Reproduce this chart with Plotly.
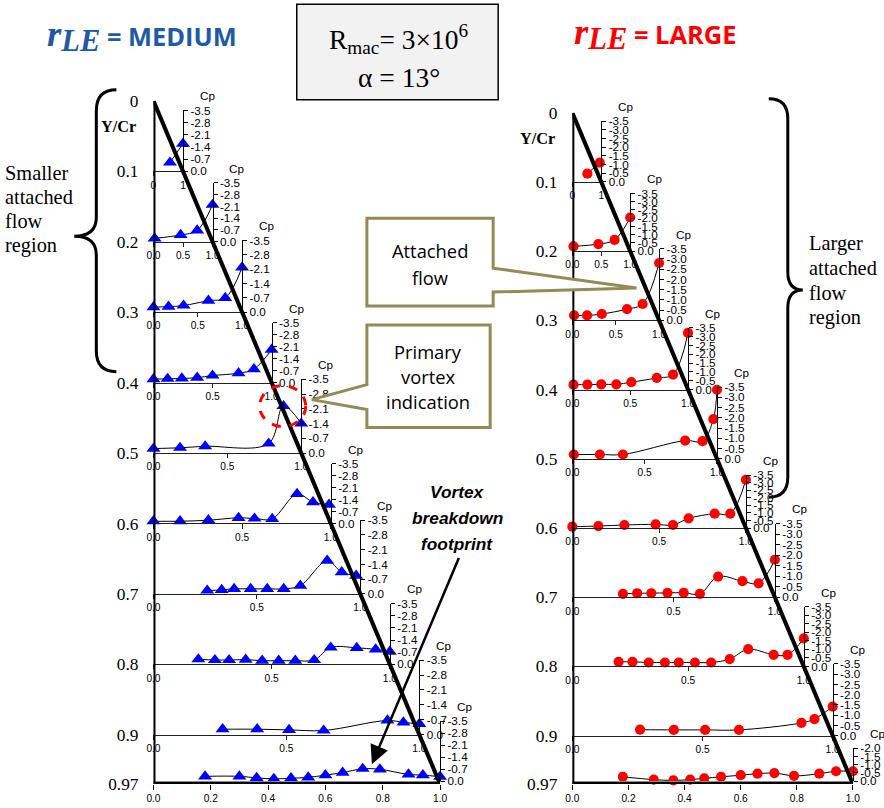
import plotly.graph_objects as go

# the window snapshot covers a 900x824 page area that ends up at 884x808,
# so every layout position below is given in final-picture pixels and mapped back
PAD = 8
SX, SY = 884 / 900, 808 / 824
W, H = 892, 816          # figure size, placed at the default 8px body offset
K = 1 / SX               # size factor for fonts, markers and pixel offsets

# ---------------------------------------------------------------- data
# spanwise stations (Y/Cr) of the pressure cuts
STATIONS = [0.1, 0.2, 0.3, 0.4, 0.5, 0.6, 0.7, 0.8, 0.9, 0.97]
SPAN_TIP = 0.97
YCR_TICKS = [0.0] + STATIONS
YCR_LABELS = ["0", "0.1", "0.2", "0.3", "0.4", "0.5", "0.6", "0.7", "0.8", "0.9", "0.97"]
XC_TICKS = [0.0, 0.2, 0.4, 0.6, 0.8, 1.0]
XC_LABELS = ["0.0", "0.2", "0.4", "0.6", "0.8", "1.0"]

# r_LE = MEDIUM : local x/c and Cp at each station
MED_X = [
    [0.56, 1.0],
    [0.02, 0.46, 0.74, 1.0],
    [0.0, 0.17, 0.34, 0.62, 0.81, 1.0],
    [0.0, 0.12, 0.24, 0.37, 0.50, 0.72, 0.85, 1.0],
    [0.0, 0.18, 0.35, 0.78, 0.88, 1.0],
    [0.0, 0.15, 0.31, 0.48, 0.57, 0.67, 0.81, 0.90, 0.99],
    [0.26, 0.33, 0.39, 0.47, 0.55, 0.63, 0.71, 0.84, 0.91, 0.98],
    [0.19, 0.26, 0.32, 0.39, 0.46, 0.53, 0.60, 0.68, 0.75, 0.86, 0.94, 1.0],
    [0.26, 0.39, 0.51, 0.64, 0.88, 0.94, 1.0],
    [0.18, 0.30, 0.36, 0.42, 0.48, 0.54, 0.60, 0.66, 0.73, 0.79, 0.89, 0.94, 1.0],
]
MED_CP = [
    [-0.50, -1.59],
    [-0.20, -0.40, -0.67, -2.20],
    [-0.24, -0.27, -0.32, -0.56, -0.69, -2.18],
    [-0.20, -0.22, -0.24, -0.29, -0.41, -0.55, -0.79, -1.93],
    [-0.21, -0.25, -0.32, -0.45, -2.23, -1.40],
    [-0.13, -0.13, -0.19, -0.33, -0.29, -0.27, -1.73, -1.25, -1.10],
    [-0.16, -0.19, -0.24, -0.24, -0.24, -0.24, -0.39, -1.58, -1.03, -0.87],
    [-0.29, -0.25, -0.25, -0.27, -0.21, -0.21, -0.21, -0.25, -0.97, -0.95, -0.86, -0.73],
    [-0.26, -0.26, -0.23, -0.20, -0.67, -0.58, -0.51],
    [-0.28, -0.28, -0.19, -0.13, -0.17, -0.22, -0.35, -0.50, -0.72, -0.69, -0.39, -0.35, -0.26],
]

# r_LE = LARGE : local x/c and Cp at each station
LRG_X = [
    [0.52, 0.95],
    [0.02, 0.45, 0.73, 1.0],
    [0.02, 0.17, 0.34, 0.63, 0.81, 1.0],
    [0.01, 0.13, 0.25, 0.38, 0.51, 0.73, 0.87, 1.0],
    [0.01, 0.19, 0.35, 0.78, 0.90, 0.975, 1.0],
    [0.0, 0.15, 0.30, 0.48, 0.58, 0.67, 0.82, 0.91, 1.0],
    [0.25, 0.32, 0.39, 0.47, 0.55, 0.63, 0.72, 0.84, 0.92, 1.0],
    [0.20, 0.26, 0.33, 0.40, 0.46, 0.53, 0.60, 0.68, 0.76, 0.87, 0.93, 1.0],
    [0.26, 0.39, 0.51, 0.64, 0.88, 0.93, 1.0],
    [0.18, 0.29, 0.36, 0.42, 0.47, 0.53, 0.60, 0.66, 0.72, 0.79, 0.88, 0.94, 1.0],
]
LRG_CP = [
    [-0.48, -1.11],
    [-0.29, -0.43, -0.68, -2.04],
    [-0.24, -0.24, -0.31, -0.55, -0.80, -2.80],
    [-0.28, -0.28, -0.30, -0.30, -0.42, -0.66, -0.85, -3.21],
    [-0.21, -0.21, -0.21, -0.89, -0.86, -1.94, -3.37],
    [-0.09, -0.13, -0.20, -0.24, -0.20, -0.64, -0.95, -0.95, -3.20],
    [-0.16, -0.19, -0.19, -0.21, -0.21, -0.16, -0.98, -0.76, -0.66, -1.78],
    [-0.27, -0.27, -0.23, -0.23, -0.23, -0.23, -0.23, -0.43, -1.01, -0.68, -0.68, -1.64],
    [-0.29, -0.28, -0.28, -0.28, -0.62, -0.81, -1.42],
    [-0.26, -0.09, -0.04, -0.09, -0.17, -0.26, -0.36, -0.45, -0.49, -0.32, -0.45, -0.60, -0.60],
]

MED_CP_TICKS = [0.0, -0.7, -1.4, -2.1, -2.8, -3.5]
LRG_CP_TICKS = [0.0, -0.5, -1.0, -1.5, -2.0, -2.5, -3.0, -3.5]
LRG_TIP_CP_TICKS = [0.0, -0.5, -1.0, -1.5, -2.0]

# ---------------------------------------------------------------- layout
SANS = "Liberation Sans, Arial, sans-serif"
SERIF = "Liberation Serif, Times New Roman, serif"
CALLOUT_FONT = "Open Sans, sans-serif"
OLIVE = "rgb(148,138,84)"

# pixel frame of each planform panel and the height of every Cp window
PANELS = [
    dict(x0=154, x1=440, ytop=100, ybot=786,
         heights=[61, 59, 72, 60, 74, 60, 74, 61, 75, 63],
         xs=MED_X, cps=MED_CP, color="#0000FF", symbol="triangle-up", size=12,
         cp_ticks=[MED_CP_TICKS] * 10),
    dict(x0=572, x1=852, ytop=112, ybot=786,
         heights=[61, 58, 72, 62, 72, 53, 74, 60, 72, 36],
         xs=LRG_X, cps=LRG_CP, color="#FF0000", symbol="circle", size=10,
         cp_ticks=[LRG_CP_TICKS] * 9 + [LRG_TIP_CP_TICKS]),
]


def fx(px):
    """picture pixel column -> paper x"""
    return (px / SX - PAD) / W


def fy(py):
    """picture pixel row -> paper y"""
    return 1 - (py / SY - PAD) / H


def fs(v):
    return round(v * K, 2)


fig = go.Figure()
lay = {}
annotations = []
shapes = []

for p, pan in enumerate(PANELS):
    m = p + 1
    xk = "xaxis" if m == 1 else f"xaxis{m}"
    yk = "yaxis" if m == 1 else f"yaxis{m}"
    xr = "x" if m == 1 else f"x{m}"
    yr = "y" if m == 1 else f"y{m}"
    lay[xk] = dict(domain=[fx(pan["x0"]), fx(pan["x1"])], range=[0, 1], anchor=yr,
                   showline=False,
                   ticks="outside", ticklen=fs(5), tickwidth=1, tickcolor="black",
                   tickvals=XC_TICKS, ticktext=XC_LABELS,
                   tickfont=dict(family=SANS, size=fs(10), color="black"),
                   showgrid=False, zeroline=False, fixedrange=True)
    lay[yk] = dict(domain=[fy(pan["ybot"]), fy(pan["ytop"])], range=[SPAN_TIP, 0], anchor=xr,
                   showline=False, ticks="", tickvals=YCR_TICKS, ticktext=YCR_LABELS,
                   ticklabelstandoff=int(round(14 * K)),
                   tickfont=dict(family=SERIF, size=fs(17), color="black"),
                   showgrid=False, zeroline=False, fixedrange=True)
    # planform outline: root edge, leading edge and tip edge
    for (ax0, ay0, ax1, ay1) in [(0, 0, 0, SPAN_TIP), (0, 0, 1, SPAN_TIP), (0, SPAN_TIP, 1, SPAN_TIP)]:
        shapes.append(dict(type="line", xref=xr, yref=yr, x0=ax0, y0=ay0, x1=ax1, y1=ay1,
                           line=dict(color="black", width=fs(4)), layer="above"))

    for i, eta in enumerate(STATIONS):
        n = 3 + p * 10 + i
        frac = eta / SPAN_TIP
        base = pan["ytop"] + (pan["ybot"] - pan["ytop"]) * frac
        xend = pan["x0"] + (pan["x1"] - pan["x0"]) * frac
        h = pan["heights"][i]
        cpt = pan["cp_ticks"][i]
        last = i == len(STATIONS) - 1
        if i == 0:
            tv, tt = [0, 1], ["0", "1"]
        else:
            tv, tt = [0, 0.5, 1], ["0.0", "0.5", "1.0"]
        lay[f"xaxis{n}"] = dict(domain=[fx(pan["x0"]), fx(xend)], range=[0, 1], anchor=f"y{n}",
                                showline=True, linecolor="#888" if last else "#222",
                                linewidth=1,
                                ticks="" if last else "outside", ticklen=fs(4), tickcolor="#222",
                                tickvals=tv, ticktext=tt, showticklabels=not last,
                                tickfont=dict(family=SANS, size=fs(10), color="black"),
                                showgrid=False, zeroline=False, fixedrange=True)
        lay[f"yaxis{n}"] = dict(domain=[fy(base - 3 if last else base), fy(base - h)],
                                range=[0, min(cpt)],
                                anchor=f"x{n}", side="right",
                                showline=True, linecolor="black", linewidth=1,
                                ticks="outside", ticklen=fs(4), tickcolor="black",
                                tickvals=cpt, ticktext=[f"{v:.1f}" for v in cpt],
                                tickfont=dict(family=SANS, size=fs(11.5), color="black"),
                                showgrid=False, zeroline=False, fixedrange=True)
        fig.add_trace(go.Scatter(
            x=pan["xs"][i], y=pan["cps"][i], xaxis=f"x{n}", yaxis=f"y{n}",
            mode="lines+markers", cliponaxis=False,
            line=dict(color="black", width=1, shape="spline", smoothing=1),
            marker=dict(symbol=pan["symbol"], size=fs(pan["size"]), color=pan["color"],
                        line=dict(width=0)),
            showlegend=False, hoverinfo="skip"))
        annotations.append(dict(text="Cp", xref=f"x{n} domain", yref=f"y{n} domain",
                                x=1, y=1, xanchor="center", yanchor="bottom",
                                xshift=fs(24), yshift=fs(6), showarrow=False,
                                font=dict(family=SANS, size=fs(11.5), color="black")))

    annotations.append(dict(text="<b>Y/Cr</b>", xref="paper", yref="paper",
                            x=fx(pan["x0"] - 35), y=fy(pan["ytop"] + 26),
                            xanchor="center", yanchor="middle", showarrow=False,
                            font=dict(family=SERIF, size=fs(16), color="black")))


def text_lines(lines, x, y0, dy, anchor, font):
    for k, s in enumerate(lines):
        annotations.append(dict(text=s, xref="paper", yref="paper", x=fx(x), y=fy(y0 + k * dy),
                                xanchor=anchor, yanchor="middle", showarrow=False, font=font))


def path(points, close=True):
    s = "M " + " L ".join(f"{fx(a):.5f},{fy(b):.5f}" for a, b in points)
    return s + (" Z" if close else "")


# headings
def heading(word):
    return (f"<span style='font-family:Liberation Serif;font-size:{fs(36)}px'><b><i>r</i></b></span>"
            f"<sub><span style='font-family:Liberation Serif;font-size:{fs(30)}px'><b><i>LE</i></b></span></sub>"
            f"<b> = {word}</b>")


annotations.append(dict(text=heading("MEDIUM"), xref="paper", yref="paper",
                        x=fx(143), y=fy(34), xanchor="center", yanchor="middle",
                        showarrow=False, font=dict(family=CALLOUT_FONT, size=fs(25), color="#1F5AA6")))
annotations.append(dict(text=heading("LARGE"), xref="paper", yref="paper",
                        x=fx(654), y=fy(32), xanchor="center", yanchor="middle",
                        showarrow=False, font=dict(family=CALLOUT_FONT, size=fs(25), color="#FF0000")))

# test condition box
shapes.append(dict(type="rect", xref="paper", yref="paper",
                   x0=fx(297), x1=fx(498), y0=fy(99), y1=fy(3),
                   fillcolor="#F2F2F2", line=dict(color="black", width=1.5), layer="below"))
annotations.append(dict(text="R<sub>mac</sub>= 3×10<sup>6</sup>", xref="paper", yref="paper",
                        x=fx(399), y=fy(38), xanchor="center", yanchor="middle", showarrow=False,
                        font=dict(family=SERIF, size=fs(27), color="black")))
annotations.append(dict(text="α = 13°", xref="paper", yref="paper",
                        x=fx(399), y=fy(77), xanchor="center", yanchor="middle", showarrow=False,
                        font=dict(family=SERIF, size=fs(27), color="black")))

# braces marking the attached-flow regions
brace_l = (f"M {fx(117)},{fy(89)} Q {fx(97)},{fy(89)} {fx(97)},{fy(110)} "
           f"L {fx(97)},{fy(217)} Q {fx(97)},{fy(236)} {fx(75)},{fy(236)} "
           f"Q {fx(97)},{fy(236)} {fx(97)},{fy(255)} "
           f"L {fx(97)},{fy(351)} Q {fx(97)},{fy(372)} {fx(117)},{fy(372)}")
brace_r = (f"M {fx(768)},{fy(98)} Q {fx(787)},{fy(98)} {fx(787)},{fy(118)} "
           f"L {fx(787)},{fy(272)} Q {fx(787)},{fy(290)} {fx(802)},{fy(290)} "
           f"Q {fx(787)},{fy(290)} {fx(787)},{fy(308)} "
           f"L {fx(787)},{fy(478)} Q {fx(787)},{fy(498)} {fx(768)},{fy(498)}")
for b in (brace_l, brace_r):
    shapes.append(dict(type="path", xref="paper", yref="paper", path=b,
                       line=dict(color="black", width=3)))
serif_txt = dict(family=SERIF, size=fs(20), color="black")
text_lines(["Smaller", "attached", "flow", "region"], 4, 172, 24.5, "left", serif_txt)
text_lines(["Larger", "attached", "flow", "region"], 806, 243, 25, "left", serif_txt)

# callouts
shapes.append(dict(type="path", xref="paper", yref="paper",
                   path=path([(367, 218), (493, 218), (493, 268), (636, 288),
                              (493, 292), (493, 306), (367, 306)]),
                   fillcolor="white", line=dict(color=OLIVE, width=3)))
shapes.append(dict(type="path", xref="paper", yref="paper",
                   path=path([(367, 325), (490, 325), (490, 428), (367, 428),
                              (367, 410), (312, 400), (367, 385)]),
                   fillcolor="white", line=dict(color=OLIVE, width=3)))
call_txt = dict(family=CALLOUT_FONT, size=fs(18), color="black")
text_lines(["Attached", "flow"], 430, 250, 27, "center", call_txt)
text_lines(["Primary", "vortex", "indication"], 428, 352, 25, "center", call_txt)

# primary vortex marker ring
shapes.append(dict(type="circle", xref="paper", yref="paper",
                   x0=fx(260), x1=fx(306), y0=fy(427), y1=fy(386),
                   line=dict(color="red", width=3, dash="dash"), layer="above"))

# vortex breakdown note and arrow
text_lines(["<b><i>Vortex</i></b>", "<b><i>breakdown</i></b>", "<b><i>footprint</i></b>"],
           457, 493, 26, "center", dict(family=SANS, size=fs(17), color="black"))
annotations.append(dict(text="", xref="paper", yref="paper", x=fx(372), y=fy(766),
                        ax=fs(458 - 372), ay=fs(562 - 766), axref="pixel", ayref="pixel",
                        showarrow=True, arrowhead=2, arrowsize=1.5, arrowwidth=2.5,
                        arrowcolor="black"))

fig.update_layout(
    width=W, height=H, margin=dict(l=0, r=0, t=0, b=0),
    paper_bgcolor="white", plot_bgcolor="rgba(0,0,0,0)",
    showlegend=False, annotations=annotations, shapes=shapes, **lay)

fig.write_html("out.html")
